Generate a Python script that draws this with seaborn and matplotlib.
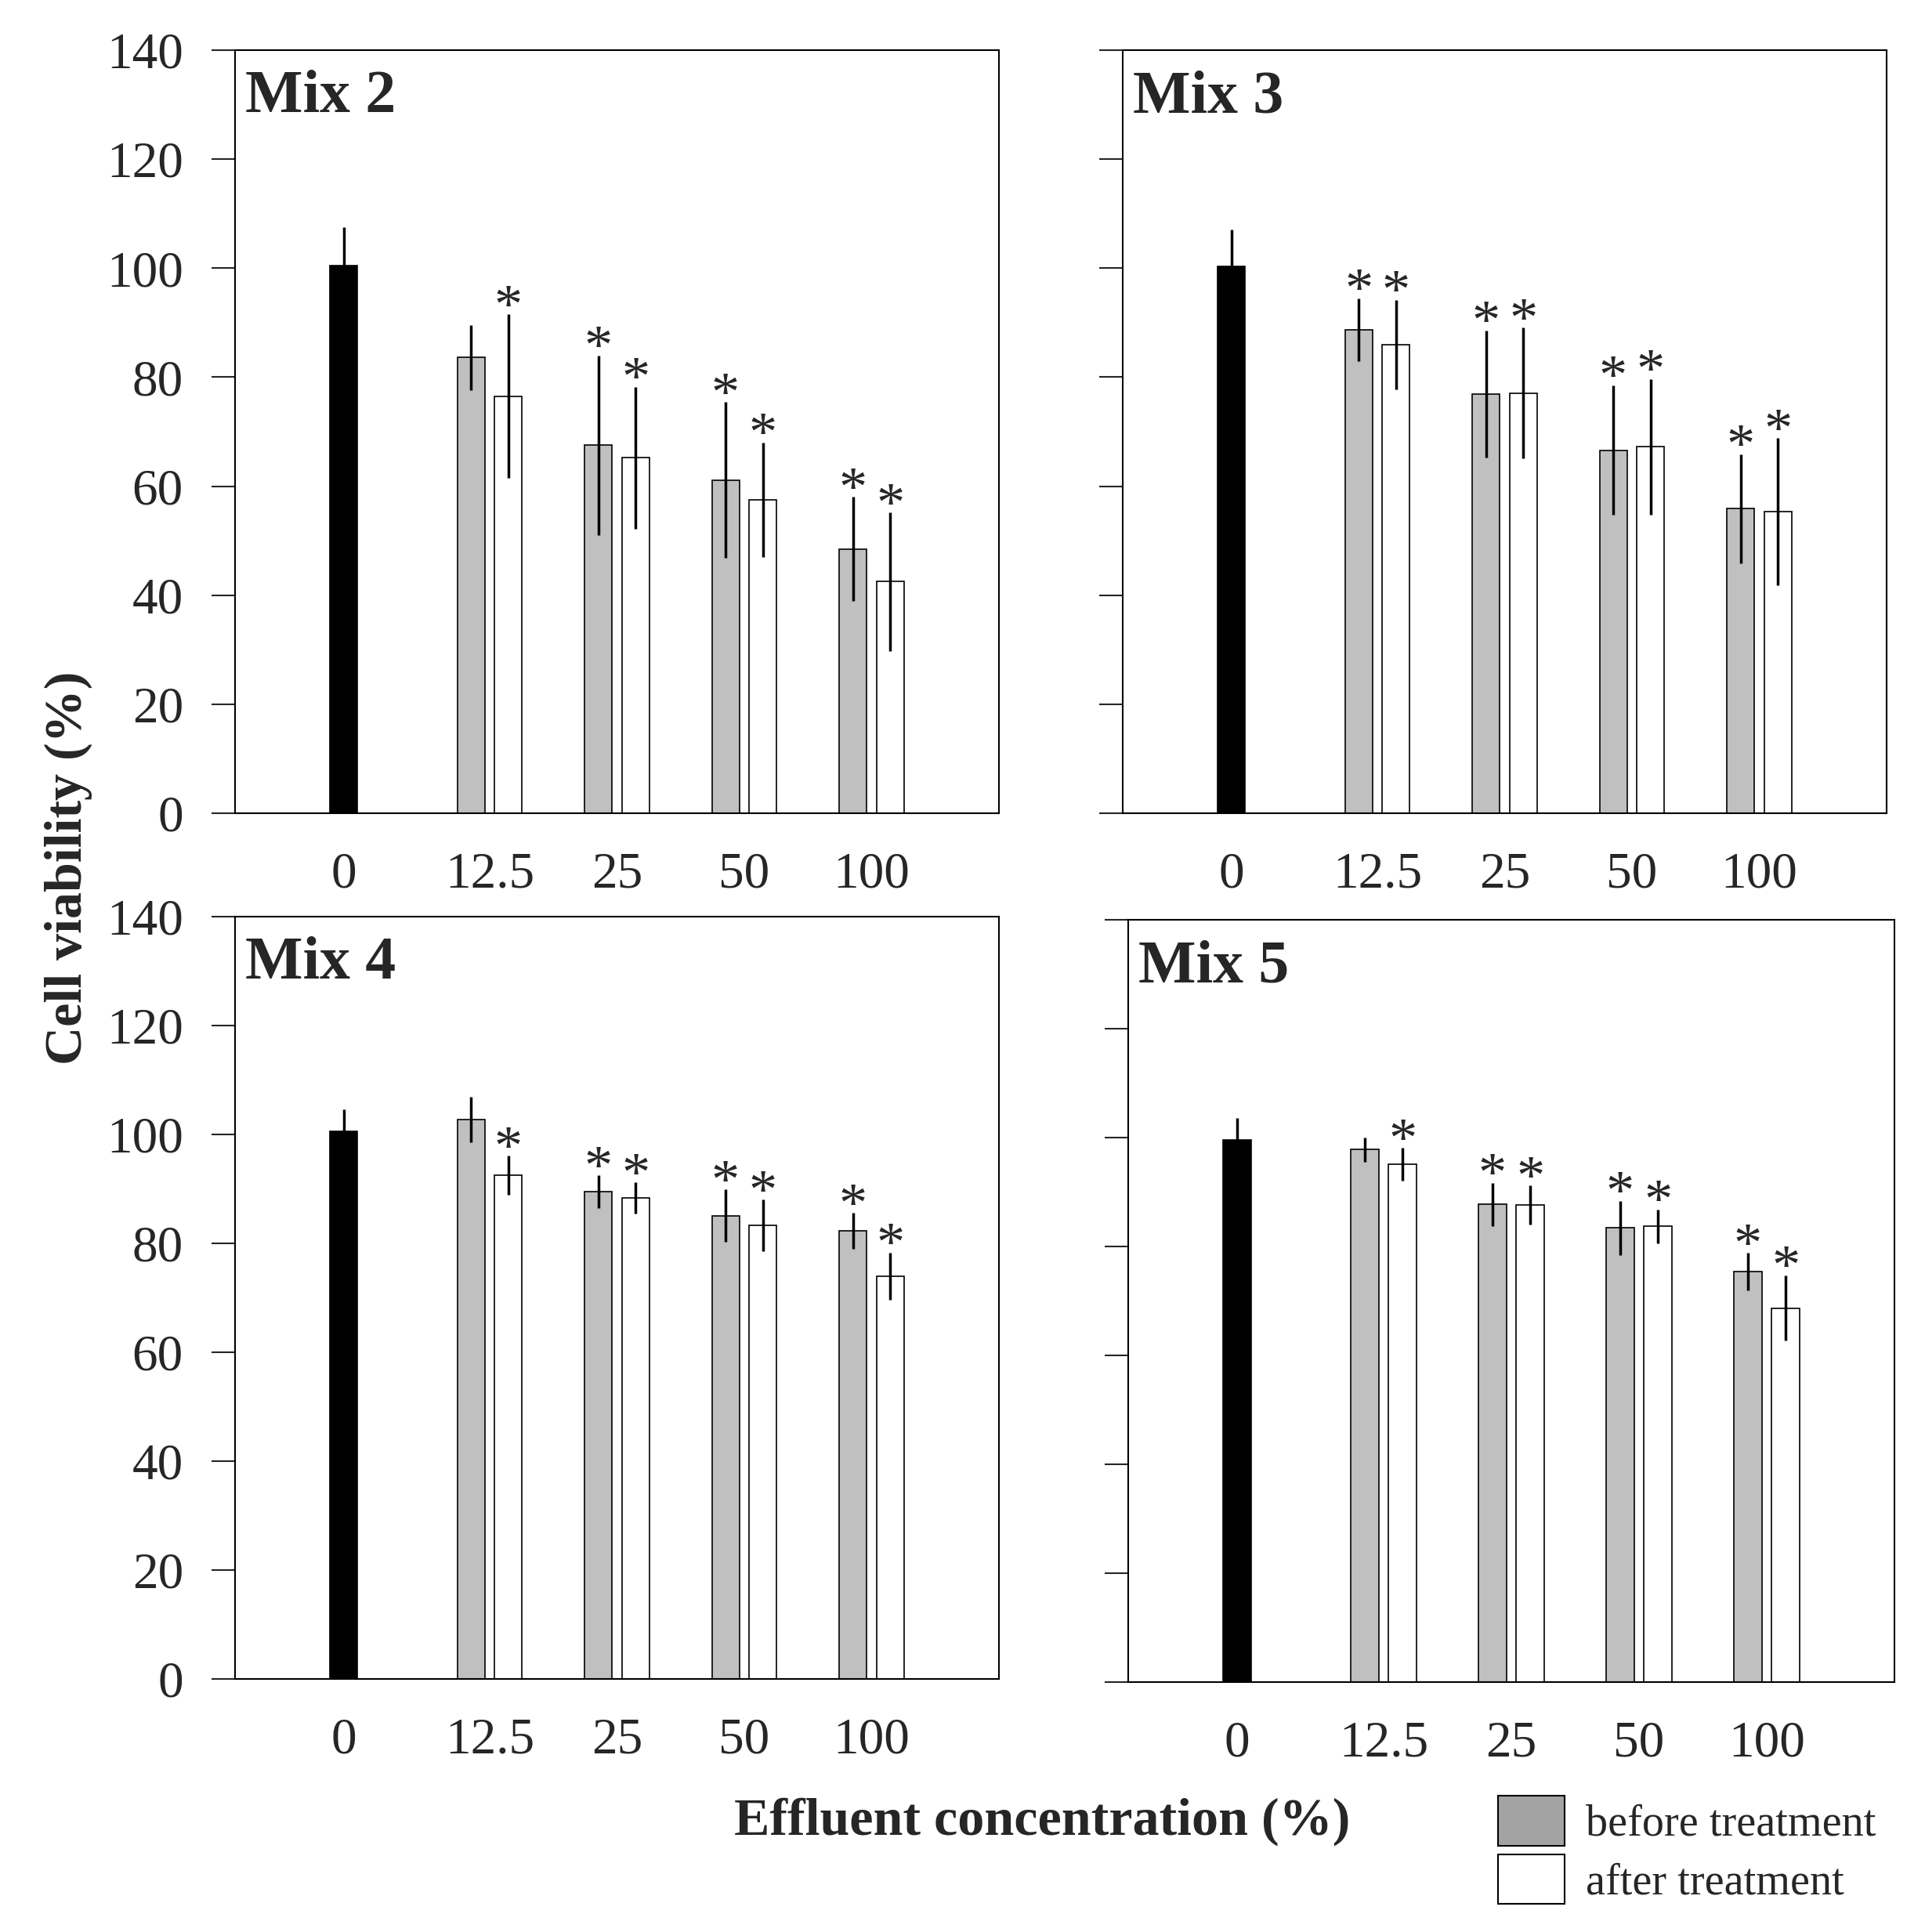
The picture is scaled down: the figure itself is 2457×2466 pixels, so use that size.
import matplotlib
matplotlib.use("Agg")
import matplotlib.pyplot as plt
from matplotlib.patches import Patch
import seaborn as sns
import pandas as pd

sns.set_style("ticks")
plt.rcParams['font.family'] = ['Liberation Serif', 'DejaVu Serif']

# effluent concentrations (%)
CONC = ["0", "12.5", "25", "50", "100"]

# cell viability (%) before treatment, all concentrations (0 = control)
mix2_before = [100.5, 83.6, 67.5, 61.1, 48.5]
mix2_before_sd = [7.0, 6.0, 16.5, 14.3, 9.5]
mix2_after = [76.5, 65.2, 57.5, 42.5]
mix2_after_sd = [15.0, 13.0, 10.5, 12.7]
mix2_star_before = [False, False, True, True, True]
mix2_star_after = [True, True, True, True]

mix3_before = [100.3, 88.7, 76.9, 66.6, 55.9]
mix3_before_sd = [6.8, 5.8, 11.7, 11.9, 10.0]
mix3_after = [86.0, 77.1, 67.2, 55.3]
mix3_after_sd = [8.2, 12.0, 12.5, 13.5]
mix3_star_before = [False, True, True, True, True]
mix3_star_after = [True, True, True, True]

mix4_before = [100.6, 102.7, 89.5, 85.1, 82.3]
mix4_before_sd = [4.0, 4.2, 3.0, 4.8, 3.3]
mix4_after = [92.5, 88.3, 83.3, 74.0]
mix4_after_sd = [3.6, 2.9, 4.7, 4.3]
mix4_star_before = [False, False, True, True, True]
mix4_star_after = [True, True, True, True]

mix5_before = [99.6, 97.8, 87.7, 83.4, 75.4]
mix5_before_sd = [4.0, 2.2, 4.0, 5.0, 3.4]
mix5_after = [95.1, 87.6, 83.7, 68.7]
mix5_after_sd = [3.0, 3.6, 3.1, 6.0]
mix5_star_before = [False, False, True, True, True]
mix5_star_after = [True, True, True, True]

GRAY = "#c0c0c0"
LEG_GRAY = "#a3a3a3"

W, H = 2457, 2466
fig = plt.figure(figsize=(W / 100, H / 100), dpi=100)

panels = [
    ("Mix 2", (300, 64, 1275, 1038), True,
     mix2_before, mix2_before_sd, mix2_after, mix2_after_sd, mix2_star_before, mix2_star_after),
    ("Mix 3", (1433, 64, 2408, 1038), False,
     mix3_before, mix3_before_sd, mix3_after, mix3_after_sd, mix3_star_before, mix3_star_after),
    ("Mix 4", (300, 1170, 1275, 2143), True,
     mix4_before, mix4_before_sd, mix4_after, mix4_after_sd, mix4_star_before, mix4_star_after),
    ("Mix 5", (1440, 1174, 2418, 2147), False,
     mix5_before, mix5_before_sd, mix5_after, mix5_after_sd, mix5_star_before, mix5_star_after),
]

for name, (l, t, r, b), show_labels, before, before_sd, after, after_sd, st_b, st_a in panels:
    ax = fig.add_axes([l / W, 1 - b / H, (r - l) / W, (b - t) / H])
    df = pd.DataFrame({
        "conc": CONC + CONC[1:],
        "treatment": ["before"] * len(before) + ["after"] * len(after),
        "viability": before + after,
    })
    sns.barplot(data=df, x="conc", y="viability", hue="treatment",
                order=CONC, hue_order=["before", "after"],
                palette={"before": GRAY, "after": "white"},
                width=0.59, gap=0.27, edgecolor="black", linewidth=1.2,
                errorbar=None, legend=False, ax=ax)

    # look up bar centres from the drawn patches
    centers = {}
    for p in ax.patches:
        cx = p.get_x() + p.get_width() / 2
        idx = int(round(cx))
        hue = "before" if cx < idx else "after"
        centers[(idx, hue)] = cx
        if idx == 0:
            p.set_facecolor("black")

    xs, ys, es = [], [], []
    stars = []
    for i, (v, e, s) in enumerate(zip(before, before_sd, st_b)):
        xs.append(centers[(i, "before")]); ys.append(v); es.append(e); stars.append(s)
    for i, (v, e, s) in enumerate(zip(after, after_sd, st_a), start=1):
        xs.append(centers[(i, "after")]); ys.append(v); es.append(e); stars.append(s)
    ax.errorbar(xs, ys, yerr=es, fmt="none", ecolor="black", elinewidth=2.5,
                capsize=0, zorder=3)
    for x, y, e, s in zip(xs, ys, es, stars):
        if s:
            ax.text(x, y + e + 1.0, "*", ha="center", va="center", fontsize=52)

    ax.set_xlim(-1, 5)
    ax.set_ylim(0, 140)
    ax.set_yticks(range(0, 141, 20))
    ax.set_xticks([centers[(0, "before")], 1, 2, 3, 4])
    ax.set_xticklabels(CONC)
    ax.set_xlabel("")
    ax.set_ylabel("")
    ax.tick_params(axis="y", direction="out", length=21.6, width=1.5,
                   labelsize=47, pad=26, labelleft=show_labels)
    ax.tick_params(axis="x", length=0, pad=35, labelsize=47)
    for sp in ax.spines.values():
        sp.set_linewidth(1.5)
        sp.set_color("black")
    ax.text(0.013, 0.974, name, transform=ax.transAxes, ha="left", va="top",
            fontsize=56, fontweight="bold")

fig.text(87 / W, 1 - 1108 / H, "Cell viability (%)", rotation=90,
         ha="center", va="center", fontsize=49, fontweight="bold")
fig.text(1330 / W, 1 - 2325 / H, "Effluent concentration (%)",
         ha="center", va="center", fontsize=49, fontweight="bold")

handles = [Patch(facecolor=LEG_GRAY, edgecolor="black", linewidth=1.5, label="before treatment"),
           Patch(facecolor="white", edgecolor="black", linewidth=1.5, label="after treatment")]
fig.legend(handles=handles, loc="upper left", bbox_to_anchor=(1912 / W, 1 - 2292 / H),
           frameon=False, fontsize=40.5, handlelength=85 / 56, handleheight=1.36,
           handletextpad=27 / 56, labelspacing=0.2, borderpad=0, borderaxespad=0)

fig.savefig("out.png", dpi=100)
